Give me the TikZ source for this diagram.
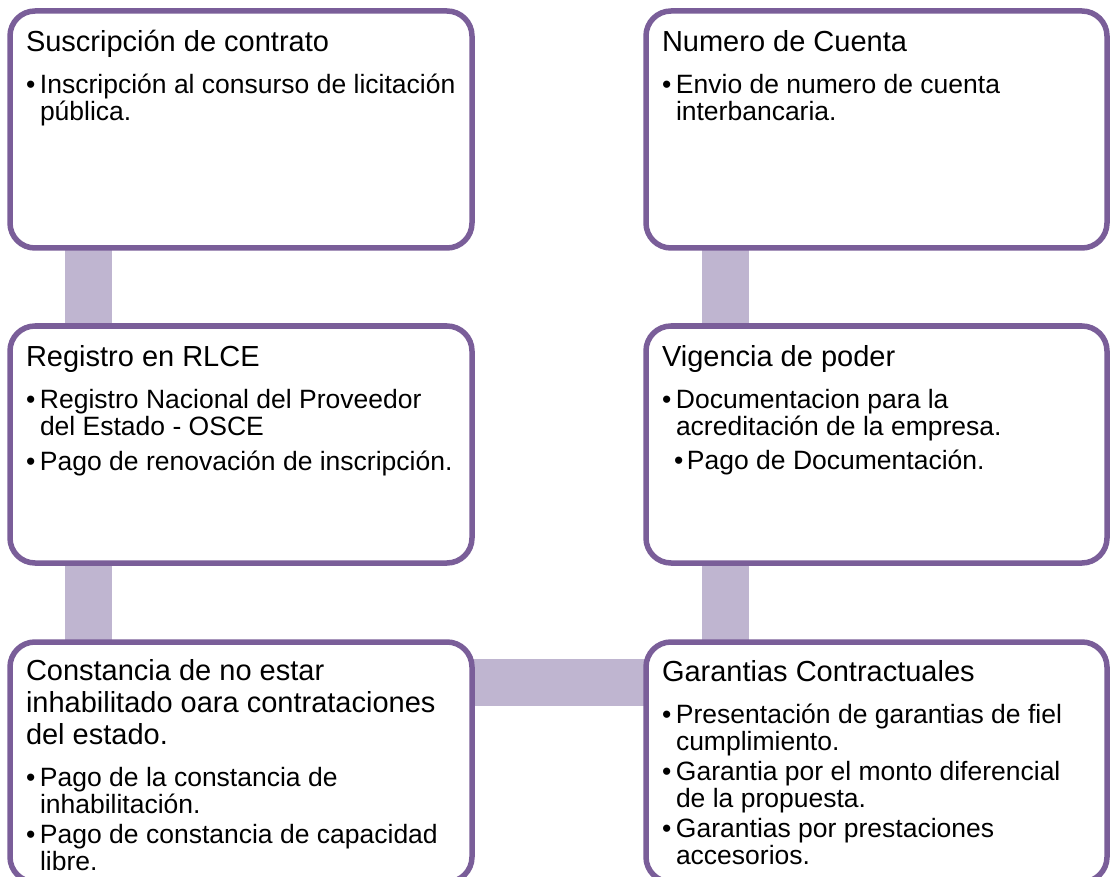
\documentclass[tikz,border=0pt]{standalone}
\usepackage{fontspec}
\setmainfont{Liberation Sans}
\usetikzlibrary{backgrounds}
\definecolor{boxline}{HTML}{7A5E99}
\definecolor{connfill}{HTML}{BFB5D0}
\newcommand\Ln[2]{\kern#1\relax\hbox{\smash{#2}}}
\newcommand\Tf{\fontsize{29pt}{29pt}\selectfont}
\newcommand\Bf{\fontsize{26.5pt}{26.5pt}\selectfont}
\newcommand\Bu{\makebox[14pt][l]{•}}
\newcommand\In{\hspace*{14pt}}
\newcommand\Bb{\hspace*{12pt}\makebox[13pt][l]{•}}
\begin{document}
\begin{tikzpicture}[x=1pt,y=-1pt,
  box/.style={draw=boxline, line width=5.5pt, fill=white, rounded corners=25pt, outer sep=0pt, inner sep=0pt},
  conn/.style={draw=connfill, line width=47pt},
  txt/.style={anchor=north west, inner sep=0pt, outer sep=0pt}]
\useasboundingbox (0,0) rectangle (1111,877);
\clip (0,0) rectangle (1111,877);

\node[box, minimum width=462pt, minimum height=237pt] (b1) at (241,129.5) {};
\node[box, minimum width=462pt, minimum height=237pt] (b2) at (241,444.5) {};
\node[box, minimum width=462pt, minimum height=240pt] (b3) at (241,762) {};
\node[box, minimum width=461pt, minimum height=237pt] (b4) at (876.5,129.5) {};
\node[box, minimum width=461pt, minimum height=237pt] (b5) at (876.5,444.5) {};
\node[box, minimum width=461pt, minimum height=240pt] (b6) at (876.5,762) {};

\begin{pgfonlayer}{background}
\fill[white] (0,0) rectangle (1111,877);
\draw[conn] ([xshift=78.5pt]b1.south west) -- ([xshift=78.5pt]b2.north west);
\draw[conn] ([xshift=78.5pt]b2.south west) -- ([xshift=78.5pt]b3.north west);
\draw[conn] ([yshift=-40.5pt]b3.north east) -- ([yshift=-40.5pt]b6.north west);
\draw[conn] ([xshift=79pt]b4.south west) -- ([xshift=79pt]b5.north west);
\draw[conn] ([xshift=79pt]b5.south west) -- ([xshift=79pt]b6.north west);
\end{pgfonlayer}

\node[txt] (t1) at ([xshift=16pt]b1.north west) {\vtop{\offinterlineskip
  \Ln{41pt}{\Tf Suscripción de contrato}
  \Ln{42pt}{\Bf\Bu Inscripción al consurso de licitación}
  \Ln{27pt}{\Bf\In pública.}}};
\node[txt] (t2) at ([xshift=16pt]b2.north west) {\vtop{\offinterlineskip
  \Ln{41pt}{\Tf Registro en RLCE}
  \Ln{42pt}{\Bf\Bu Registro Nacional del Proveedor}
  \Ln{27pt}{\Bf\In del Estado - OSCE}
  \Ln{35pt}{\Bf\Bu Pago de renovación de inscripción.}}};
\node[txt] (t3) at ([xshift=16pt]b3.north west) {\vtop{\offinterlineskip
  \Ln{38pt}{\Tf Constancia de no estar}
  \Ln{32pt}{\Tf inhabilitado oara contrataciones}
  \Ln{32pt}{\Tf del estado.}
  \Ln{42.5pt}{\Bf\Bu Pago de la constancia de}
  \Ln{26.5pt}{\Bf\In inhabilitación.}
  \Ln{30.5pt}{\Bf\Bu Pago de constancia de capacidad}
  \Ln{26.5pt}{\Bf\In libre.}}};
\node[txt] (t4) at ([xshift=16pt]b4.north west) {\vtop{\offinterlineskip
  \Ln{41pt}{\Tf Numero de Cuenta}
  \Ln{42pt}{\Bf\Bu Envio de numero de cuenta}
  \Ln{27pt}{\Bf\In interbancaria.}}};
\node[txt] (t5) at ([xshift=16pt]b5.north west) {\vtop{\offinterlineskip
  \Ln{41pt}{\Tf Vigencia de poder}
  \Ln{42pt}{\Bf\Bu Documentacion para la}
  \Ln{27pt}{\Bf\In acreditación de la empresa.}
  \Ln{34pt}{\Bf\Bb Pago de Documentación.}}};
\node[txt] (t6) at ([xshift=16pt]b6.north west) {\vtop{\offinterlineskip
  \Ln{39pt}{\Tf Garantias Contractuales}
  \Ln{42.5pt}{\Bf\Bu Presentación de garantias de fiel}
  \Ln{26.5pt}{\Bf\In cumplimiento.}
  \Ln{30.5pt}{\Bf\Bu Garantia por el monto diferencial}
  \Ln{26.5pt}{\Bf\In de la propuesta.}
  \Ln{30.5pt}{\Bf\Bu Garantias por prestaciones}
  \Ln{26.5pt}{\Bf\In accesorios.}}};
\end{tikzpicture}
\end{document}
